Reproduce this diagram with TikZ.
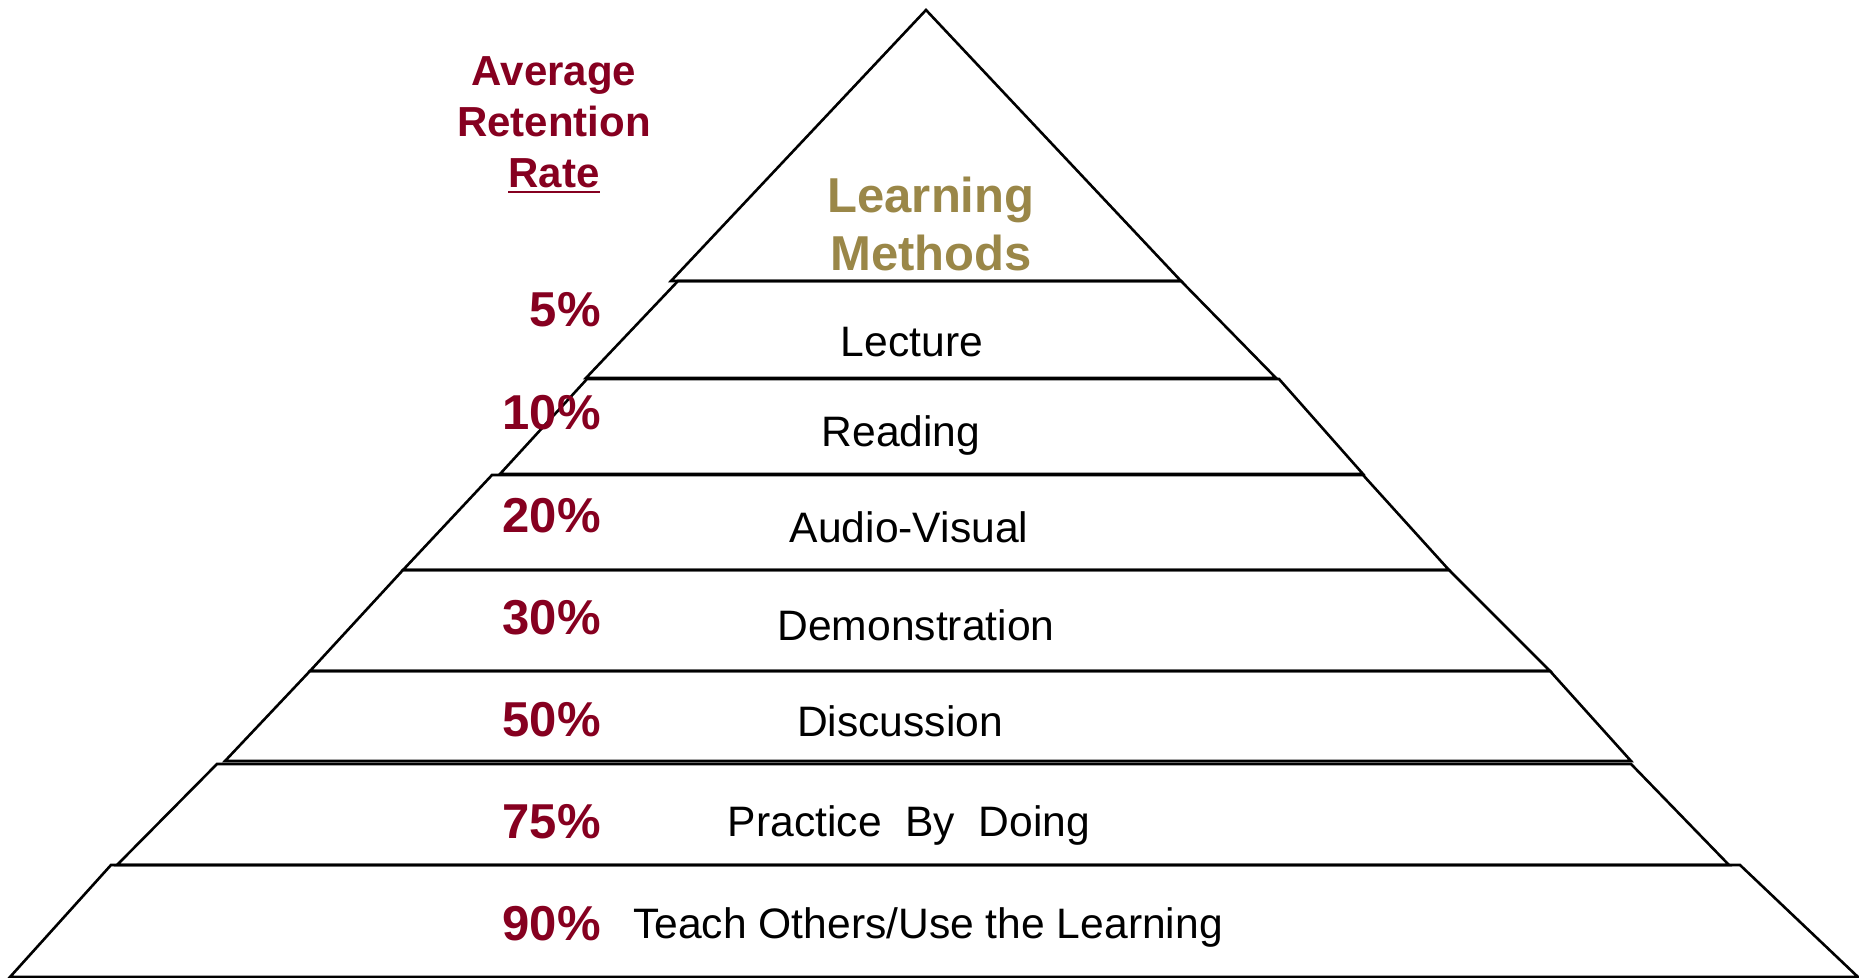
\documentclass[tikz,border=0pt]{standalone}
\usepackage{fontspec}
\setmainfont{Liberation Sans}
\definecolor{ratered}{RGB}{134,0,32}
\definecolor{methodgold}{RGB}{154,135,72}
\begin{document}
\begin{tikzpicture}[x=1pt,y=-1pt,
  tier/.style={draw=black,line width=2.6pt,line join=miter},
  rate/.style={inner sep=0pt,anchor=base east,text=ratered,
    font=\fontsize{49}{59}\selectfont\bfseries},
  head/.style={inner sep=0pt,anchor=base,text=ratered,
    font=\fontsize{42}{51}\selectfont\bfseries},
  title/.style={inner sep=0pt,anchor=base,text=methodgold,
    font=\fontsize{49}{59}\selectfont\bfseries},
  method/.style={inner sep=0pt,anchor=base,text=black,
    font=\fontsize{42.6}{51}\selectfont}]
\useasboundingbox[fill=white] (0,0) rectangle (1859,977);

% pyramid tiers, top to bottom
\draw[tier] (926,10) -- (1181,281) -- (671,281) -- cycle;
\draw[tier] (678,281) -- (1181,281) -- (1276,378) -- (586,378) -- cycle;
\draw[tier] (587,379) -- (1279,379) -- (1363,474) -- (500,474) -- cycle;
\draw[tier] (492,475) -- (1363,475) -- (1449,570) -- (403,570) -- cycle;
\draw[tier] (403,570) -- (1449,570) -- (1550,671) -- (310,671) -- cycle;
\draw[tier] (310,671) -- (1550,671) -- (1631,761) -- (225,761) -- cycle;
\draw[tier] (217,764) -- (1631,764) -- (1729,865) -- (117,865) -- cycle;
\draw[tier] (111,865) -- (1740,865) -- (1858,977) -- (10,977) -- cycle;

% column heading
\node[head] (avg) at (554,85) {Average};
\node[head] (ret) at (554,136) {Retention};
\node[head] (rt) at (554,187) {Rate};
\draw[ratered,line width=2.4pt] ([yshift=-5pt]rt.base west) -- ([yshift=-5pt]rt.base east);

% pyramid title
\node[title] (lm1) at (931,212) {Learning};
\node[title] (lm2) at (931,270) {Methods};

% retention rates
\node[rate] (r5)  at (601,326) {5\%};
\node[rate] (r10) at (601,429) {10\%};
\node[rate] (r20) at (601,532) {20\%};
\node[rate] (r30) at (601,634) {30\%};
\node[rate] (r50) at (601,736) {50\%};
\node[rate] (r75) at (601,838) {75\%};
\node[rate] (r90) at (601,940) {90\%};

% learning methods
\node[method] (m1) at (912,356) {Lecture};
\node[method] (m2) at (901,446) {Reading};
\node[method] (m3) at (909,542) {Audio-Visual};
\node[method] (m4) at (916,640) {Demonstration};
\node[method] (m5) at (900,736) {Discussion};
\node[method] (m6) at (909,836) {Practice~~By~~Doing};
\node[method,anchor=base west] (m7) at (633,938) {Teach Others/Use the Learning};
\end{tikzpicture}
\end{document}
